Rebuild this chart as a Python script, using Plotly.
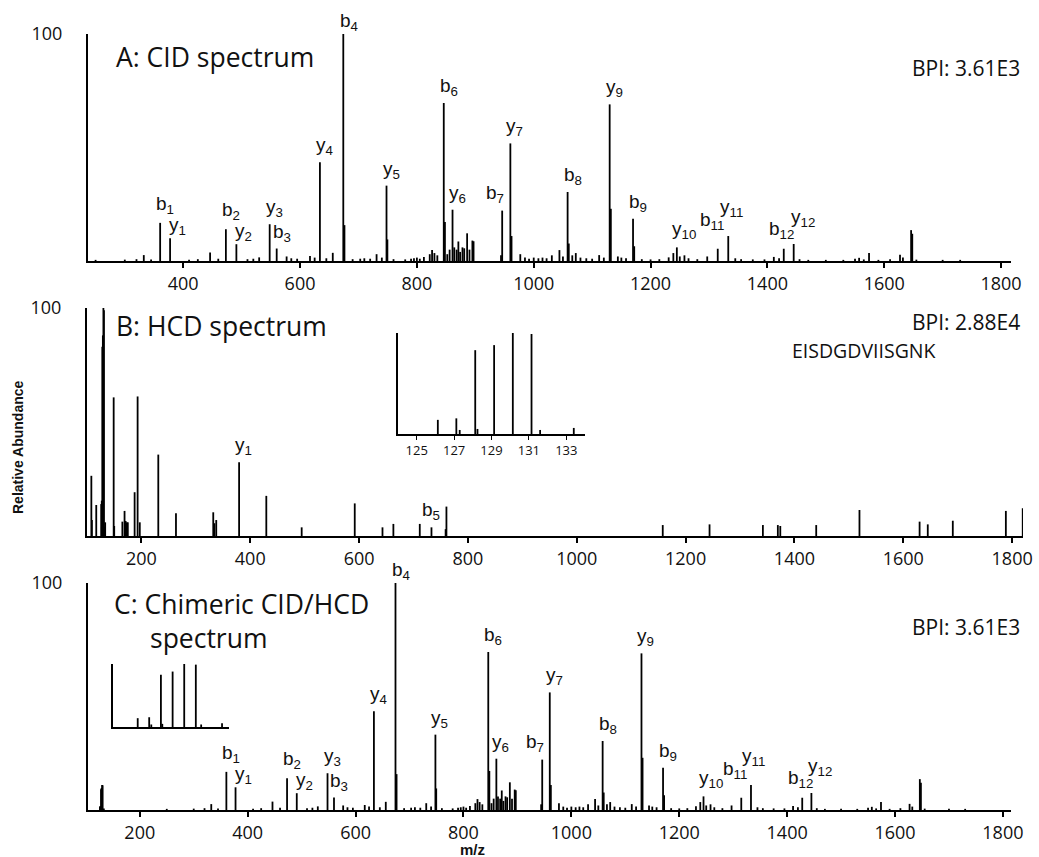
import plotly.graph_objects as go

# ---------------- data ----------------
# CID fragment spectrum (m/z, relative intensity %)
cid_mz = [332.5, 360.5, 377.5, 446, 473, 491, 530, 548, 560, 577, 617, 634, 656,
          674, 676, 703, 731, 748, 749.5, 790, 800, 812, 822, 826, 830, 846, 848,
          856, 861, 864, 868, 871, 874, 878, 881, 886, 890, 895, 897, 944, 946,
          960, 962, 977, 1000, 1015, 1031, 1044, 1058, 1060, 1072, 1112, 1130,
          1132, 1144, 1170, 1172, 1231, 1239, 1245, 1258, 1297, 1315, 1333, 1411,
          1428, 1445, 1557, 1574, 1627, 1646, 1648]
cid_int = [2.6, 16.8, 10.0, 3.7, 14.0, 7.4, 1.6, 16.2, 5.5, 2.0, 2.2, 43.5, 3.6,
           100.0, 15.8, 1.0, 3.0, 33.2, 9.5, 1.0, 1.5, 1.8, 3.0, 4.8, 3.5, 69.6, 17.2,
           5.0, 22.6, 6.0, 5.0, 8.6, 4.0, 6.0, 5.6, 12.2, 5.0, 9.0, 8.7, 2.5, 22.2,
           51.8, 11.0, 3.0, 1.5, 1.5, 2.5, 4.8, 30.4, 7.7, 3.5, 2.6, 69.0,
           23.0, 2.0, 18.6, 6.5, 1.6, 3.5, 6.0, 2.5, 2.0, 5.4, 11.0, 1.8,
           5.4, 7.5, 1.4, 3.5, 2.7, 13.6, 12.0]

# minor CID baseline peaks
cid_minor_mz = [250, 300, 320, 345, 410, 425, 460, 510, 520, 585, 595, 625, 645,
                690, 710, 720, 740, 760, 780, 795, 805, 835, 852, 985, 992, 1008,
                1022, 1050, 1066, 1080, 1090, 1100, 1120, 1150, 1158, 1185, 1200,
                1215, 1250, 1265, 1280, 1345, 1355, 1375, 1395, 1420, 1455, 1470,
                1500, 1530, 1550, 1565, 1590, 1610, 1632, 1655, 1700, 1730]
cid_minor_int = [0.5, 0.6, 0.8, 0.7, 0.6, 0.8, 1.0, 0.8, 1.0, 1.2, 1.0, 1.5, 1.2,
                 0.8, 1.2, 1.0, 1.5, 0.8, 0.7, 1.2, 1.0, 2.5, 3.0, 1.5, 1.0, 1.2,
                 1.2, 2.0, 2.5, 1.5, 1.2, 1.0, 1.5, 1.5, 1.2, 0.8, 0.7,
                 0.8, 2.0, 1.2, 0.8, 1.2, 0.8, 0.7, 0.7, 1.2, 0.8, 0.5,
                 0.5, 0.5, 1.0, 0.7, 0.5, 0.8, 1.5, 0.6, 0.5, 0.5]

# Annotated b/y fragment ions in the CID spectrum
cid_ion_names = ["b1", "y1", "b2", "y2", "y3", "b3", "y4", "b4", "y5", "b6", "y6",
                 "b7", "y7", "b8", "y9", "b9", "y10", "b11", "y11", "b12", "y12"]
cid_ion_mz = [360.5, 377.5, 473, 491, 548, 560, 634, 674, 748, 846, 861,
              946, 960, 1058, 1130, 1170, 1245, 1315, 1333, 1428, 1445]

# HCD spectrum (m/z, relative intensity %), reporter ions listed separately
hcd_mz = [108, 109, 117, 149, 150, 165, 169, 171, 173, 175, 187.5, 193, 197, 231,
          263.5, 332, 334, 337.5, 379.5, 429.5, 494.5, 592, 643, 663, 711.5, 733,
          759, 760.5, 1158, 1244, 1342, 1369.5, 1374, 1440, 1519.5, 1630, 1645,
          1691, 1788.5, 1819.5]
hcd_int = [26.4, 7.0, 13.6, 60.8, 4.4, 6.3, 11.0, 6.6, 6.0, 6.0, 19.2, 61.2, 6.0,
           35.7, 10.0, 10.4, 5.6, 7.0, 32.4, 17.6, 3.8, 14.3, 3.8, 5.3, 5.3, 3.8,
           3.0, 12.9, 4.8, 5.1, 4.8, 4.8, 4.4, 4.8, 11.4, 6.3, 5.1,
           6.7, 11.0, 12.2]
hcd_ion_names = ["y1", "b5"]
hcd_ion_mz = [379.5, 733]

# TMT reporter-ion region (relative to the strongest reporter)
reporter_mz = [126.13, 127.12, 127.3, 128.13, 128.25, 129.14, 130.14, 131.14, 131.6, 133.4]
reporter_int = [14.0, 15.5, 4.0, 83.0, 5.0, 88.0, 100.0, 99.0, 4.0, 6.0]

# Reporter-ion level in each full spectrum (% of base peak)
hcd_reporter_level = 100.0
chimeric_reporter_level = 11.0

x_ticks_a = [400, 600, 800, 1000, 1200, 1400, 1600, 1800]
x_ticks_bc = [200, 400, 600, 800, 1000, 1200, 1400, 1600, 1800]
inset_ticks = [125, 127, 129, 131, 133]

# ---------------- helpers ----------------
W, H = 1039, 857


def px(x):
    return x / W


def py(y):
    return 1 - y / H


def sticks(mz, inten):
    xs, ys = [], []
    for m, i in zip(mz, inten):
        xs += [m, m, None]
        ys += [0, i, None]
    return xs, ys


def ion_label(name):
    return f"{name[0]}<sub>{name[1:]}</sub>"


LINE = "#000000"
TXT_FONT = "Open Sans"
ION_FONT = "Liberation Sans, Arial"

fig = go.Figure()

# CID spectrum with its minor baseline peaks
cid_all_mz = cid_mz + cid_minor_mz
cid_all_int = cid_int + cid_minor_int
# chimeric spectrum = CID peaks + scaled reporter ions
chim_mz = reporter_mz + cid_all_mz
chim_int = [v * chimeric_reporter_level / 100 for v in reporter_int] + cid_all_int
hcd_all_mz = reporter_mz + hcd_mz
hcd_all_int = [v * hcd_reporter_level / 100 for v in reporter_int] + hcd_int

panels = [
    ("x", "y", cid_all_mz, cid_all_int),
    ("x2", "y2", hcd_all_mz, hcd_all_int),
    ("x3", "y3", chim_mz, chim_int),
    ("x4", "y4", reporter_mz, reporter_int),
    ("x5", "y5", reporter_mz, reporter_int),
]
for xa, ya, mz, inten in panels:
    xs, ys = sticks(mz, inten)
    fig.add_trace(go.Scatter(x=xs, y=ys, mode="lines", xaxis=xa, yaxis=ya,
                             line=dict(color=LINE, width=1.8), hoverinfo="skip",
                             showlegend=False))

# ---------------- axes ----------------
xcommon = dict(showline=True, linecolor=LINE, linewidth=2, ticks="outside",
               ticklen=5, tickwidth=1.5, tickcolor=LINE, showgrid=False,
               zeroline=False, automargin=False,
               tickfont=dict(family=TXT_FONT, size=18, color="#111"))
ycommon = dict(showline=True, linecolor=LINE, linewidth=2, ticks="", range=[0, 100],
               tickvals=[100], ticktext=["100"], showgrid=False, zeroline=False,
               automargin=False, ticklabelstandoff=20,
               tickfont=dict(family=TXT_FONT, size=18, color="#111"))
inset_common = dict(showline=True, linecolor=LINE, linewidth=1.5, showgrid=False,
                    zeroline=False, automargin=False)

fig.update_layout(
    template="none",
    xaxis=dict(domain=[px(88), px(1011)], range=[237, 1817], tickvals=x_ticks_a,
               anchor="y", **xcommon),
    yaxis=dict(domain=[py(261), py(34)], anchor="x", **ycommon),
    xaxis2=dict(domain=[px(87), px(1023)], range=[100, 1820], tickvals=x_ticks_bc,
                anchor="y2", **xcommon),
    yaxis2=dict(domain=[py(536), py(308)], anchor="x2", **ycommon),
    xaxis3=dict(domain=[px(88), px(1011)], range=[104, 1815], tickvals=x_ticks_bc,
                anchor="y3", **xcommon),
    yaxis3=dict(domain=[py(810), py(583)], anchor="x3", **ycommon),
    xaxis4=dict(domain=[px(398), px(585)], range=[124, 134], tickvals=inset_ticks,
                anchor="y4", ticks="outside", ticklen=4, tickwidth=1, tickcolor=LINE,
                tickfont=dict(family=TXT_FONT, size=13, color="#111"), **inset_common),
    yaxis4=dict(domain=[py(434), py(333)], range=[0, 100], anchor="x4",
                showticklabels=False, ticks="", **inset_common),
    xaxis5=dict(domain=[px(113), px(229)], range=[124, 134], anchor="y5",
                ticks="", showticklabels=False, **inset_common),
    yaxis5=dict(domain=[py(727), py(664)], range=[0, 100], anchor="x5",
                showticklabels=False, ticks="", **inset_common),
)

# ---------------- ion labels ----------------
# per-ion nudges: (xanchor, x shift px, y shift px)
nudge = {
    "b1": ("left", -6, 4),
    "y1": ("left", -3, -2),
    "b2": ("left", -6, 4),
    "y2": ("left", -3, -2),
    "b7": ("right", 4, 3),
    "b11": ("center", -6, 14),
    "y11": ("center", 3, 14),
    "b12": ("center", -2, 5),
    "y12": ("left", -5, 12),
    "y10": ("left", -7, 3),
    "b4": ("left", -5, -2),
    "b5": ("center", 0, 2),
}

ann = []


def add_ion_labels(names, mzs, peak_mz, peak_int, xa, ya):
    for name, m in zip(names, mzs):
        h = peak_int[peak_mz.index(m)]
        xanc, dx, dy = nudge.get(name, ("left", -6, 2))
        if xa == "x2" and name == "y1":
            xanc, dx, dy = "left", -6, 2
        ann.append(dict(x=m, y=h, xref=xa, yref=ya, text=ion_label(name),
                        showarrow=False, xanchor=xanc, yanchor="bottom",
                        xshift=dx, yshift=dy,
                        font=dict(family=ION_FONT, size=19, color="#111")))


add_ion_labels(cid_ion_names, cid_ion_mz, cid_mz, cid_int, "x", "y")
add_ion_labels(hcd_ion_names, hcd_ion_mz, hcd_mz, hcd_int, "x2", "y2")
add_ion_labels(cid_ion_names, cid_ion_mz, cid_mz, cid_int, "x3", "y3")


def text(x, y, s, size, xanchor="left", family=TXT_FONT, bold=False, angle=0):
    ann.append(dict(x=px(x), y=py(y), xref="paper", yref="paper",
                    text=f"<b>{s}</b>" if bold else s, showarrow=False,
                    xanchor=xanchor, yanchor="middle", textangle=angle,
                    font=dict(family=family, size=size, color="#111")))


text(114, 57, "A: CID spectrum", 26.5)
text(1022, 68, "BPI: 3.61E3", 21, xanchor="right")
text(114, 326, "B: HCD spectrum", 26.5)
text(1022, 322, "BPI: 2.88E4", 21, xanchor="right")
text(790, 350, "EISDGDVIISGNK", 19.5)
text(112, 604, "C: Chimeric CID/HCD", 26.5)
text(148, 638, "spectrum", 26.5)
text(1022, 627, "BPI: 3.61E3", 21, xanchor="right")
text(18, 447, "Relative Abundance", 14, xanchor="center", family="Liberation Sans, Arial",
     bold=True, angle=-90)
text(472, 849, "m/z", 15, xanchor="center", family="Liberation Sans, Arial", bold=True)

fig.update_layout(
    annotations=ann,
    width=W, height=H,
    margin=dict(l=0, r=0, t=0, b=0, pad=0),
    paper_bgcolor="white",
    plot_bgcolor="white",
    showlegend=False,
)

fig.write_html("out.html")
